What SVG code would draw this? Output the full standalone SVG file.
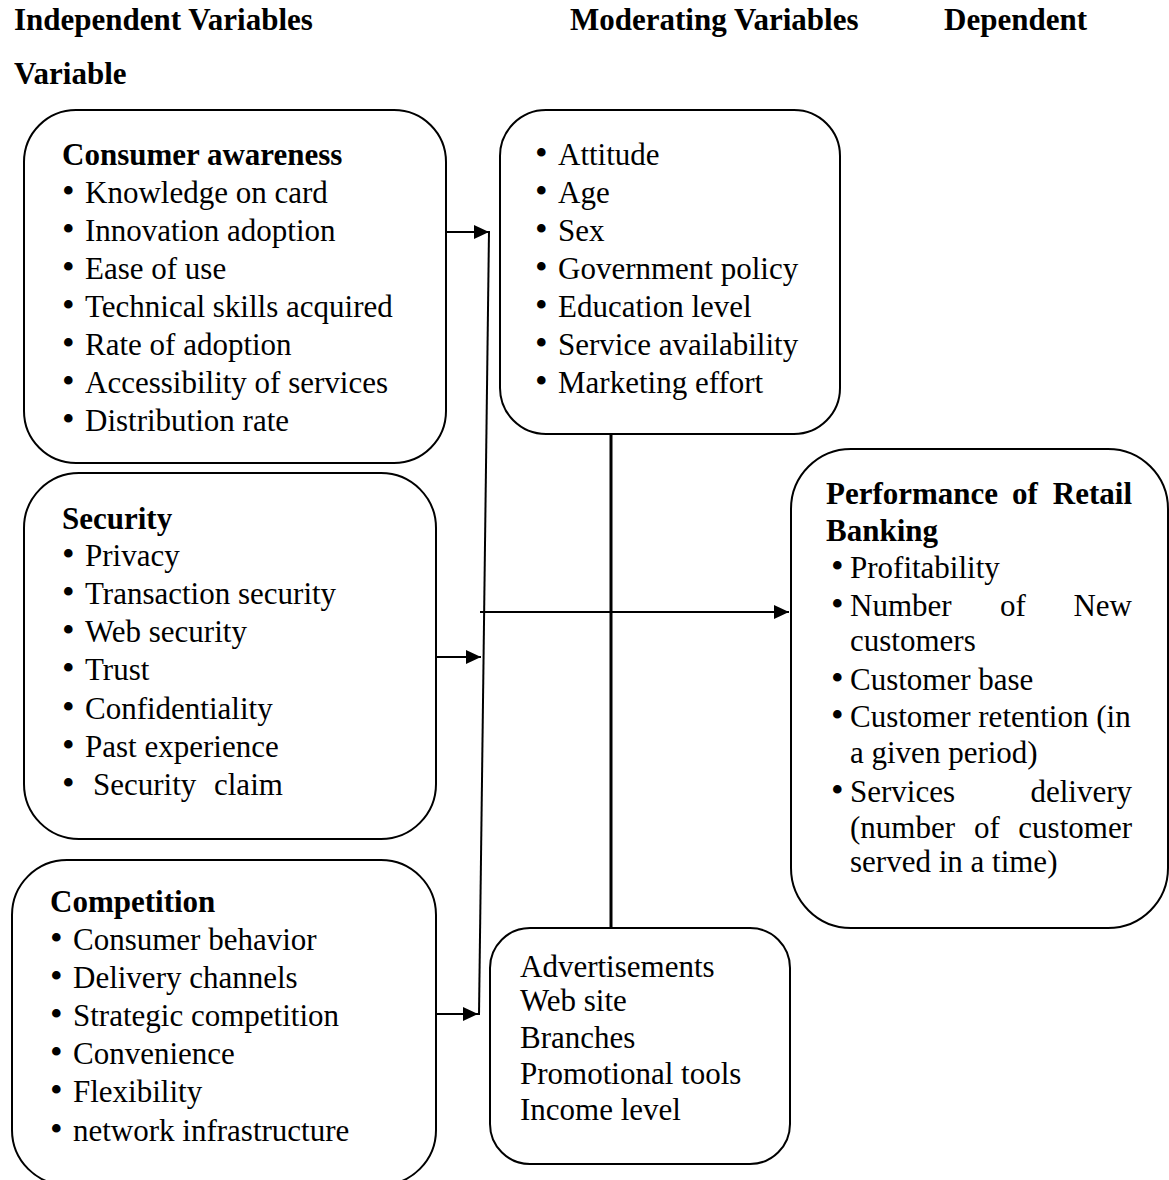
<svg xmlns="http://www.w3.org/2000/svg" width="1169" height="1180" viewBox="0 0 1169 1180">
<style>
text{font-family:"Liberation Serif","Times New Roman",serif;font-size:31px;fill:#000}
.b{font-weight:bold}
.u{font-size:36px}
.box{fill:#fff;stroke:#000;stroke-width:2}
.ln{fill:none;stroke:#000;stroke-width:2}
</style>
<defs>
<marker id="ah" markerUnits="userSpaceOnUse" markerWidth="15" markerHeight="14" viewBox="0 0 15 14" refX="15" refY="7" orient="auto"><path d="M0,0 L15,7 L0,14 z" fill="#000"/></marker>
</defs>
<rect width="1169" height="1180" fill="#fff"/>
<g id="headers">
<text class="b" x="14" y="30">Independent Variables</text>
<text class="b" x="570" y="30">Moderating Variables</text>
<text class="b" x="944" y="30">Dependent</text>
<text class="b" x="14" y="84">Variable</text>
</g>
<g id="consumer-awareness">
<rect class="box" x="24" y="110" width="422" height="353" rx="52"/>
<text class="b" x="62" y="165">Consumer awareness</text>
<text y="203"><tspan class="u" x="62">•</tspan><tspan x="85">Knowledge on card</tspan></text>
<text y="241"><tspan class="u" x="62">•</tspan><tspan x="85">Innovation adoption</tspan></text>
<text y="279"><tspan class="u" x="62">•</tspan><tspan x="85">Ease of use</tspan></text>
<text y="317"><tspan class="u" x="62">•</tspan><tspan x="85">Technical skills acquired</tspan></text>
<text y="355"><tspan class="u" x="62">•</tspan><tspan x="85">Rate of adoption</tspan></text>
<text y="393"><tspan class="u" x="62">•</tspan><tspan x="85">Accessibility of services</tspan></text>
<text y="431"><tspan class="u" x="62">•</tspan><tspan x="85">Distribution rate</tspan></text>
</g>
<g id="security">
<rect class="box" x="24" y="473" width="412" height="366" rx="55"/>
<text class="b" x="62" y="529">Security</text>
<text y="566"><tspan class="u" x="62">•</tspan><tspan x="85">Privacy</tspan></text>
<text y="604"><tspan class="u" x="62">•</tspan><tspan x="85">Transaction security</tspan></text>
<text y="642"><tspan class="u" x="62">•</tspan><tspan x="85">Web security</tspan></text>
<text y="680"><tspan class="u" x="62">•</tspan><tspan x="85">Trust</tspan></text>
<text y="719"><tspan class="u" x="62">•</tspan><tspan x="85">Confidentiality</tspan></text>
<text y="757"><tspan class="u" x="62">•</tspan><tspan x="85">Past experience</tspan></text>
<text y="795"><tspan class="u" x="62">•</tspan><tspan x="93">Security</tspan><tspan x="214">claim</tspan></text>
</g>
<g id="competition">
<rect class="box" x="12" y="860" width="424" height="325" rx="55"/>
<text class="b" x="50" y="912">Competition</text>
<text y="950"><tspan class="u" x="50">•</tspan><tspan x="73">Consumer behavior</tspan></text>
<text y="988"><tspan class="u" x="50">•</tspan><tspan x="73">Delivery channels</tspan></text>
<text y="1026"><tspan class="u" x="50">•</tspan><tspan x="73">Strategic competition</tspan></text>
<text y="1064"><tspan class="u" x="50">•</tspan><tspan x="73">Convenience</tspan></text>
<text y="1102"><tspan class="u" x="50">•</tspan><tspan x="73">Flexibility</tspan></text>
<text y="1141"><tspan class="u" x="50">•</tspan><tspan x="73">network infrastructure</tspan></text>
</g>
<g id="moderating">
<rect class="box" x="500" y="110" width="340" height="324" rx="46"/>
<text y="165"><tspan class="u" x="535">•</tspan><tspan x="558">Attitude</tspan></text>
<text y="203"><tspan class="u" x="535">•</tspan><tspan x="558">Age</tspan></text>
<text y="241"><tspan class="u" x="535">•</tspan><tspan x="558">Sex</tspan></text>
<text y="279"><tspan class="u" x="535">•</tspan><tspan x="558">Government policy</tspan></text>
<text y="317"><tspan class="u" x="535">•</tspan><tspan x="558">Education level</tspan></text>
<text y="355"><tspan class="u" x="535">•</tspan><tspan x="558">Service availability</tspan></text>
<text y="393"><tspan class="u" x="535">•</tspan><tspan x="558">Marketing effort</tspan></text>
</g>
<g id="channels">
<rect class="box" x="490" y="928" width="300" height="236" rx="40"/>
<text x="520" y="977">Advertisements</text>
<text x="520" y="1011">Web site</text>
<text x="520" y="1048">Branches</text>
<text x="520" y="1084">Promotional tools</text>
<text x="520" y="1120">Income level</text>
</g>
<g id="performance">
<rect class="box" x="791" y="449" width="377" height="479" rx="60"/>
<text class="b" x="826" y="504">Performance</text>
<text class="b" x="1012" y="504">of</text>
<text class="b" x="1132" y="504" text-anchor="end">Retail</text>
<text class="b" x="826" y="541">Banking</text>
<text y="578"><tspan class="u" x="831">•</tspan><tspan x="850">Profitability</tspan></text>
<text y="616"><tspan class="u" x="831">•</tspan><tspan x="850">Number</tspan></text><text x="1000" y="616">of</text><text x="1132" y="616" text-anchor="end">New</text>
<text x="850" y="651">customers</text>
<text y="690"><tspan class="u" x="831">•</tspan><tspan x="850">Customer base</tspan></text>
<text y="727"><tspan class="u" x="831">•</tspan><tspan x="850">Customer retention (in</tspan></text>
<text x="850" y="763">a given period)</text>
<text y="802"><tspan class="u" x="831">•</tspan><tspan x="850">Services</tspan></text><text x="1132" y="802" text-anchor="end">delivery</text>
<text x="850" y="838">(number</text><text x="974" y="838">of</text><text x="1132" y="838" text-anchor="end">customer</text>
<text x="850" y="872">served in a time)</text>
</g>
<g id="connectors">
<line class="ln" x1="446" y1="232" x2="489" y2="232" marker-end="url(#ah)"/>
<line class="ln" x1="436" y1="657" x2="481" y2="657" marker-end="url(#ah)"/>
<line class="ln" x1="436" y1="1014" x2="478" y2="1014" marker-end="url(#ah)"/>
<line class="ln" x1="489" y1="231" x2="479" y2="1015"/>
<line class="ln" x1="480" y1="612" x2="789" y2="612" marker-end="url(#ah)"/>
<line class="ln" x1="611" y1="434" x2="611" y2="928" style="stroke-width:3"/>
</g>
</svg>
